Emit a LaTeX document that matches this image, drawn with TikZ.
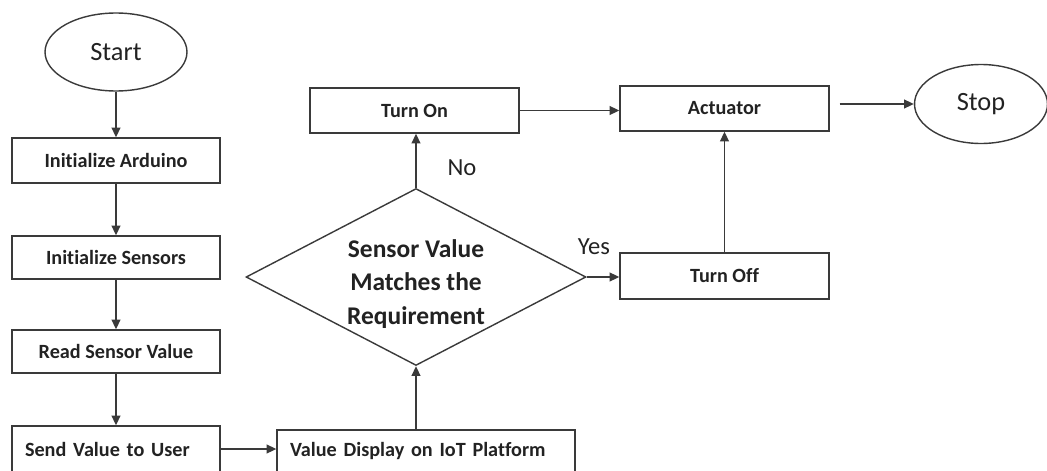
\documentclass[tikz,border=0pt]{standalone}
\usepackage{fontspec}
\setmainfont[Ligatures=NoCommon]{Carlito}
\usetikzlibrary{shapes.geometric,arrows.meta}
\definecolor{linec}{HTML}{3A3A3A}
\definecolor{textc}{HTML}{222222}
\tikzset{
  box/.style={draw=linec, line width=0.8pt, rectangle, inner sep=0pt, text=textc, font=\bfseries\fontsize{11.5}{14}\selectfont},
  oval/.style={draw=linec, line width=0.8pt, ellipse, inner sep=0pt, text=textc, font=\fontsize{15}{18}\selectfont},
  arr/.style={draw=linec, line width=0.8pt, -{Triangle[length=5.5pt,width=5pt]}},
  lbl/.style={text=textc, font=\fontsize{14}{17}\selectfont, inner sep=0pt}
}
\begin{document}
\begin{tikzpicture}[x=0.02cm, y=-0.02cm]
\useasboundingbox (0,0) rectangle (1047,470);
\clip (0,0) rectangle (1047,470);
% left column
\node[oval, minimum width=2.84cm, minimum height=1.56cm] (start) at (116,52) {Start};
\node[box, minimum width=4.16cm, minimum height=0.9cm] (arduino) at (116,160.5) {Initialize Arduino};
\node[box, minimum width=4.16cm, minimum height=0.86cm] (sensors) at (116,257.5) {Initialize Sensors};
\node[box, minimum width=4.16cm, minimum height=0.86cm] (read) at (116,351.5) {Read Sensor Value};
\node[box, text width=3.64cm, inner xsep=0.26cm, align=left, minimum height=0.92cm] (send) at (116,449) {Send Value to User};
% middle
\node[box, text width=5.44cm, inner xsep=0.26cm, align=left, minimum height=0.84cm] (display) at (426,451) {Value Display on IoT Platform};
\node[draw=linec, line width=0.8pt, diamond, minimum width=6.8cm, minimum height=3.54cm, inner sep=0pt] (dec) at (416,277) {};
\node[text=textc, font=\bfseries\fontsize{14.5}{19.3}\selectfont, align=center, inner sep=0pt] (dectext) at (416,284) {Sensor Value\\Matches the\\Requirement};
\node[box, minimum width=4.18cm, minimum height=0.9cm] (turnon) at (414.5,110.5) {Turn On};
% right
\node[box, minimum width=4.18cm, minimum height=0.9cm] (actuator) at (724.5,108.5) {Actuator};
\node[box, minimum width=4.18cm, minimum height=0.92cm] (turnoff) at (724.5,276) {Turn Off};
\node[oval, minimum width=2.66cm, minimum height=1.58cm] (stop) at (981,104) {Stop};
% labels
\node[lbl] (no) at (462,168) {No};
\node[lbl] (yes) at (594,247) {Yes};
% connectors
\draw[arr] (start) -- (arduino);
\draw[arr] (arduino) -- (sensors);
\draw[arr] (sensors) -- (read);
\draw[arr] (read) -- (send);
\draw[arr] (send.east) -- (send.east -| display.west);
\draw[arr] (dec.south |- display.north) -- (dec.south);
\draw[arr] (dec.north) -- (dec.north |- turnon.south);
\draw[arr] (turnon.east) -- (turnon.east -| actuator.west);
\draw[arr] (dec.east) -- (dec.east -| turnoff.west);
\draw[arr] (turnoff.north) -- (actuator.south);
\draw[arr, shorten <=7\pgflinewidth] (actuator.east |- stop.west) -- (stop.west);
\end{tikzpicture}
\end{document}
